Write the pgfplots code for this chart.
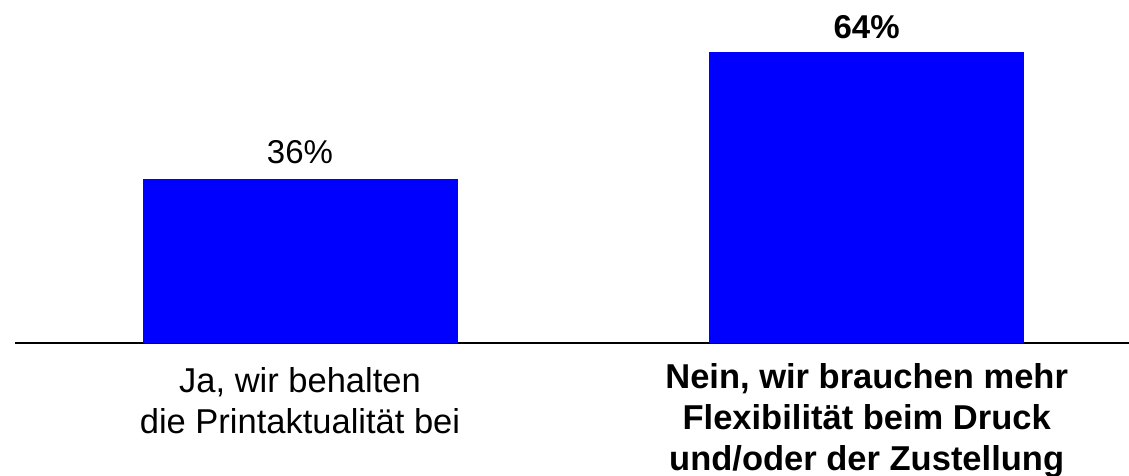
\documentclass[border=0pt]{standalone}
\usepackage{pgfplots}
\pgfplotsset{compat=1.18}
\usepackage{fontspec}
\setmainfont{Liberation Sans}
\definecolor{barblue}{RGB}{0,0,255}
\begin{document}
\begin{tikzpicture}
\begin{axis}[
  at={(0,0)}, anchor=south west,
  scale only axis, width=1114pt, height=343.5pt,
  xmin=-0.503, xmax=1.463, ymin=0, ymax=75.3,
  clip=false,
  axis x line=bottom, axis y line=none,
  x axis line style={-, line width=2pt, black},
  ytick=\empty,
  /pgf/number format/assume math mode=true,
  xtick={0}, xticklabels={{Ja{,} wir behalten\\die Printaktualität bei}},
  xtick style={draw=none},
  xticklabel style={align=center, anchor=north, inner sep=0pt, yshift=-20pt,
    font=\fontsize{34.5}{41}\selectfont},
  extra x ticks={1},
  extra x tick labels={{Nein{,} wir brauchen mehr\\Flexibilität beim Druck\\und/oder der Zustellung}},
  extra x tick style={xtick style={draw=none}, xticklabel style={yshift=4pt,
    font=\fontsize{34.5}{41}\selectfont\bfseries}},
  ybar, bar width=315pt, bar shift=0pt,
]
\addplot[fill=barblue, draw=none,
  nodes near coords={\pgfmathprintnumber[assume math mode=true]{\pgfplotspointmeta}\%},
  nodes near coords style={anchor=south, inner sep=0pt, yshift=15pt, font=\fontsize{33}{38}\selectfont, black}]
  coordinates {(0,36)};
\addplot[fill=barblue, draw=none,
  nodes near coords={\pgfmathprintnumber[assume math mode=true]{\pgfplotspointmeta}\%},
  nodes near coords style={anchor=south, inner sep=0pt, yshift=12.5pt, font=\fontsize{33}{38}\selectfont\bfseries, black}]
  coordinates {(1,64)};
\end{axis}
\pgfresetboundingbox
\path[use as bounding box] (-15pt,-132.5pt) rectangle (1114pt,343.5pt);
\end{tikzpicture}
\end{document}
